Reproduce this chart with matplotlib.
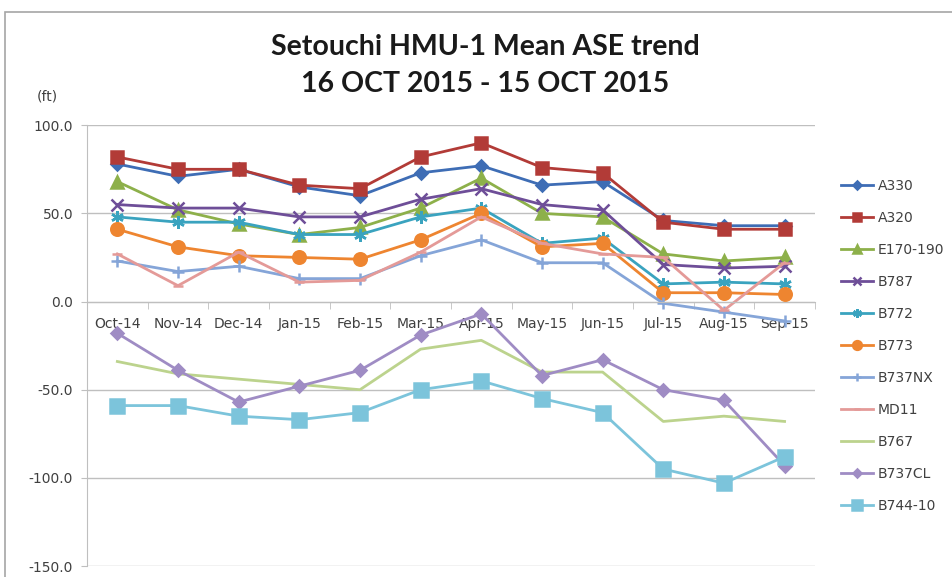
import matplotlib
matplotlib.use('Agg')
import matplotlib.pyplot as plt
from matplotlib.patches import Rectangle

# ── Data ─────────────────────────────────────────────────────────────────────
months = ['Oct-14', 'Nov-14', 'Dec-14', 'Jan-15', 'Feb-15', 'Mar-15',
          'Apr-15', 'May-15', 'Jun-15', 'Jul-15', 'Aug-15', 'Sep-15']

a330    = [78, 71, 75, 65, 60, 73, 77, 66, 68, 46, 43, 43]
a320    = [82, 75, 75, 66, 64, 82, 90, 76, 73, 45, 41, 41]
e170    = [68, 52, 44, 38, 42, 53, 70, 50, 48, 27, 23, 25]
b787    = [55, 53, 53, 48, 48, 58, 64, 55, 52, 21, 19, 20]
b772    = [48, 45, 45, 38, 38, 48, 53, 33, 36, 10, 11, 10]
b773    = [41, 31, 26, 25, 24, 35, 50, 31, 33, 5, 5, 4]
b737nx  = [23, 17, 20, 13, 13, 26, 35, 22, 22, -1, -6, -11]
md11    = [27, 9, 28, 11, 12, 28, 48, 33, 27, 25, -5, 22]
b767    = [-34, -41, -44, -47, -50, -27, -22, -40, -40, -68, -65, -68]
b737cl  = [-18, -39, -57, -48, -39, -19, -7, -42, -33, -50, -56, -93]
b744_10 = [-59, -59, -65, -67, -63, -50, -45, -55, -63, -95, -103, -88]

# name, values, colour, marker, marker size
series = [
    ('A330',     a330,    '#3E6DB5', 'D', 6),
    ('A320',     a320,    '#B23B37', 's', 9),
    ('E170-190', e170,    '#8DB04A', '^', 8),
    ('B787',     b787,    '#6E4E98', 'x', 8),
    ('B772',     b772,    '#3AA3BF', (6, 2, 0), 9),
    ('B773',     b773,    '#EE8530', 'o', 9),
    ('B737NX',   b737nx,  '#85A5D8', '+', 9),
    ('MD11',     md11,    '#E49A98', '_', 7),
    ('B767',     b767,    '#BCD38D', None, 0),
    ('B737CL',   b737cl,  '#9F8CC4', 'D', 6),
    ('B744-10',  b744_10, '#7CC4DB', 's', 10),
]

GRID = '#BFBFBF'

fig = plt.figure(figsize=(9.52, 5.77), dpi=100)
ax = fig.add_axes([0.0914, 0.019, 0.7646, 0.764])

# outer chart frame
fig.patches.append(Rectangle((5 / 952, -0.05), 1.2, 1 - 12 / 577 + 0.05,
                             transform=fig.transFigure, fill=False,
                             edgecolor='#A6A6A6', lw=1.2))

x = list(range(len(months)))
for name, vals, col, mk, ms in series:
    ax.plot(x, vals, color=col, lw=2, marker=mk, ms=ms,
            mec=col, mfc=col, mew=1.8, label=name)

ax.set_xlim(-0.5, 11.5)
ax.set_ylim(-150, 100)
ax.set_yticks([100, 50, 0, -50, -100, -150])
ax.set_yticklabels(['100.0', '50.0', '0.0', '-50.0', '-100.0', '-150.0'])
ax.yaxis.grid(True, color=GRID, lw=1)
ax.set_axisbelow(True)

ax.set_xticks(x)
ax.set_xticklabels(months)
ax.set_xticks([i - 0.5 for i in range(13)], minor=True)
ax.tick_params(axis='x', which='major', length=0, pad=11, labelsize=10, colors='#404040')
ax.tick_params(axis='x', which='minor', length=5, color=GRID, direction='out')
ax.tick_params(axis='y', length=4, color=GRID, pad=6, labelsize=10, colors='#404040')

ax.spines['bottom'].set_position(('data', 0))
ax.spines['bottom'].set_color(GRID)
ax.spines['left'].set_color(GRID)
ax.spines['top'].set_visible(False)
ax.spines['right'].set_visible(False)

fig.text(0.51, 0.918, 'Setouchi HMU-1 Mean ASE trend', ha='center', va='center',
         fontsize=20.5, fontweight='bold', family='Lato', color='#1a1a1a')
fig.text(0.51, 0.854, '16 OCT 2015 - 15 OCT 2015', ha='center', va='center',
         fontsize=20.5, fontweight='bold', family='Lato', color='#1a1a1a')
fig.text(0.05, 0.832, '(ft)', ha='center', va='center', fontsize=10, color='#404040')

fig.legend(loc='upper left', bbox_to_anchor=(0.878, 0.70), frameon=False,
           fontsize=10, handlelength=2.3, labelspacing=1.3, handletextpad=0.3,
           borderaxespad=0, markerscale=0.7)
for t in fig.legends[0].get_texts():
    t.set_color('#404040')

plt.savefig('out.png', dpi=100)
